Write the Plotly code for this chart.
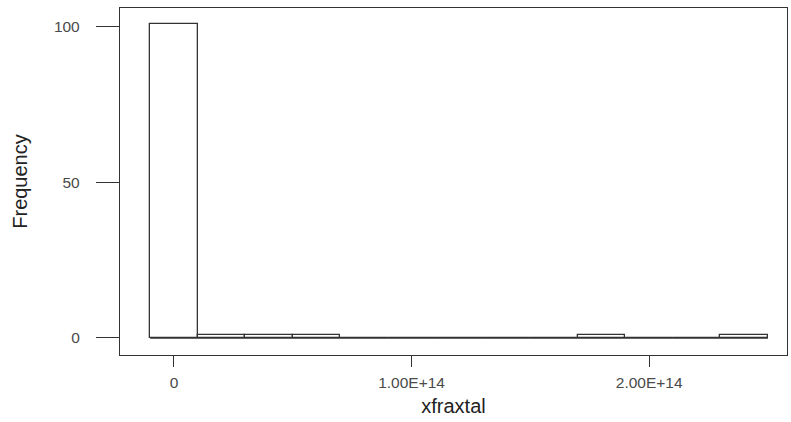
import plotly.graph_objects as go

# Histogram bins (edges) and counts
bin_edges = [-1e13, 1e13, 3e13, 5e13, 7e13, 9e13, 11e13, 13e13, 15e13, 17e13, 19e13, 21e13, 23e13, 25e13]
counts = [101, 1, 1, 1, 0, 0, 0, 0, 0, 1, 0, 0, 1]

x_tickvals = [0, 1e14, 2e14]
x_ticktext = ["0", "1.00E+14", "2.00E+14"]
y_tickvals = [0, 50, 100]
y_ticktext = ["0", "50", "100"]

centers = [(bin_edges[i] + bin_edges[i + 1]) / 2 for i in range(len(counts))]
widths = [bin_edges[i + 1] - bin_edges[i] for i in range(len(counts))]

fig = go.Figure()
# baseline drawn by zero-height bins in R
fig.add_trace(go.Scatter(
    x=[bin_edges[0], bin_edges[-1]], y=[0, 0], mode="lines",
    line=dict(color="#333333", width=1.3), showlegend=False, hoverinfo="skip"))
fig.add_trace(go.Bar(
    x=centers, y=counts, width=widths,
    marker=dict(color="white", line=dict(color="#333333", width=1.3)),
    showlegend=False))

font_family = "Liberation Sans, Arial, sans-serif"
fig.update_layout(
    width=791, height=422, autosize=False,
    margin=dict(l=120, r=3, t=8, b=67),
    paper_bgcolor="white", plot_bgcolor="white",
    font=dict(family=font_family, color="#444444", size=15),
    bargap=0,
    xaxis=dict(
        range=[-2.27e13, 2.58e14],
        tickvals=x_tickvals, ticktext=x_ticktext,
        showgrid=False, zeroline=False,
        showline=True, mirror=True, linecolor="#333333", linewidth=1.3,
        ticks="outside", ticklen=11, tickcolor="#333333", tickwidth=1.3,
        ticklabelstandoff=2,
        tickfont=dict(size=15.5, color="#4a4a4a"),
        title=dict(text="xfraxtal", font=dict(size=20, color="#222222"), standoff=9),
    ),
    yaxis=dict(
        range=[-5.47, 106.1],
        tickvals=y_tickvals, ticktext=y_ticktext,
        showgrid=False, zeroline=False,
        showline=True, mirror=True, linecolor="#333333", linewidth=1.3,
        ticks="outside", ticklen=23, tickcolor="#333333", tickwidth=1.3,
        ticklabelstandoff=13,
        tickfont=dict(size=15.5, color="#4a4a4a"),
        title=dict(text="Frequency", font=dict(size=20, color="#222222"), standoff=20),
    ),
)

post = (
    "document.body.style.margin='0';"
    "document.body.style.overflow='hidden';"
    "var gd=document.getElementById('{plot_id}');"
    "Plotly.relayout(gd,{width:791,height:422});"
)
fig.write_html("out.html", config={"responsive": False, "displayModeBar": False}, post_script=post)
